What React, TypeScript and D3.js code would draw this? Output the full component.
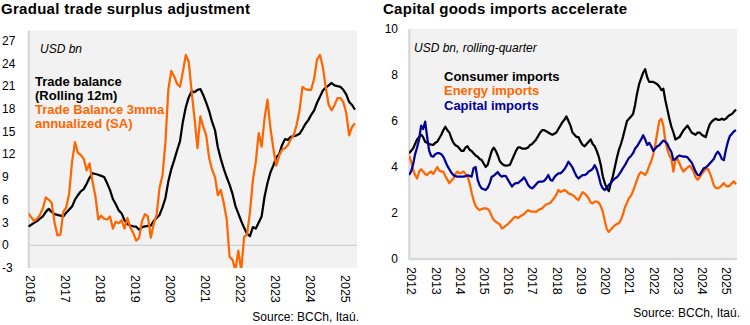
import React from 'react';
import * as d3 from 'd3';

// ---------- Left chart data (monthly, Jan 2016 - May 2025) ----------
const leftYears = ['2016', '2017', '2018', '2019', '2020', '2021', '2022', '2023', '2024', '2025'];
const leftYTicks = [-3, 0, 3, 6, 9, 12, 15, 18, 21, 24, 27];
const tradeBalance12m = [
  2.45, 2.7, 2.95, 3.2, 3.5, 3.8, 4.4, 4.8, 4.4, 4.1, 4.0, 3.9,
  3.8, 4.3, 4.7, 5.1, 6.0, 6.6, 7.1, 7.4, 8.1, 8.9, 9.5, 9.4,
  9.3, 9.15, 9.0, 8.2, 7.3, 6.1, 5.4, 4.6, 4.2, 3.3, 2.8, 2.6,
  2.5, 2.45, 2.05, 2.4, 2.5, 2.55, 2.6, 3.2, 3.6, 4.0, 5.0, 6.2,
  8.4, 10.0, 11.2, 12.5, 13.7, 16.3, 18.2, 19.5, 20.3, 20.2, 20.5, 20.6,
  19.8, 18.8, 17.7, 16.3, 15.2, 12.9, 11.4, 10.1, 9.0, 8.0, 6.8, 5.2,
  4.2, 3.2, 2.3, 1.5, 1.2, 2.4, 2.2, 3.0, 3.8, 6.4, 8.2, 9.6,
  10.5, 11.6, 12.0, 13.2, 14.0, 13.9, 14.3, 14.4, 14.5, 14.7, 15.3, 16.0,
  16.5, 17.2, 17.8, 18.8, 19.6, 20.4, 20.8, 21.1, 21.4, 21.1, 21.0, 20.9,
  20.5, 19.9, 18.9, 18.5, 17.9,
];
const tradeBalance3mma = [
  4.2, 3.7, 3.2, 3.5, 4.0, 4.9, 6.3, 6.0, 5.6, 3.0, 1.3, 1.4,
  4.4, 5.0, 6.8, 11.0, 13.6, 12.2, 11.9, 11.4, 9.9, 10.8, 8.4, 6.5,
  3.4, 3.9, 3.5, 3.4, 3.8, 2.2, 3.1, 2.9, 3.3, 2.2, 3.6, 2.3,
  1.6, 0.6, 1.0, 3.2, 4.1, 3.8, 1.0, 2.8, 4.0, 7.6, 9.2, 13.5,
  20.5, 23.0, 22.3, 21.3, 20.9, 22.9, 25.1, 24.2, 20.3, 16.7, 12.8, 17.0,
  15.6, 14.5, 11.5, 10.0, 9.0, 6.6, 7.3, 5.6, 3.5, -1.5, -1.9, -3.3,
  -0.7, -3.3, 1.1, 1.4, 4.4, 8.6, 11.0, 14.8, 13.0, 16.7, 19.2, 15.5,
  12.8, 10.5, 11.8, 12.6, 12.8, 13.2, 14.0, 14.5, 15.9, 17.8, 20.9, 20.6,
  20.5, 20.5, 22.0, 24.5, 25.1, 23.5, 20.8, 18.5, 17.8, 18.5, 19.4, 19.4,
  18.9, 17.5, 14.5, 15.6, 16.1,
];

// ---------- Right chart data (monthly, Jan 2012 - Jul 2025) ----------
const rightYears = ['2012', '2013', '2014', '2015', '2016', '2017', '2018', '2019', '2020', '2021', '2022', '2023', '2024', '2025'];
const rightYTicks = [0, 2, 4, 6, 8, 10];
const consumerImports = [
  4.6, 4.7, 4.8, 5.0, 5.2, 5.3, 5.4, 5.3, 5.1, 5.05, 5.0, 4.97,
  4.96, 5.05, 5.1, 5.25, 5.4, 5.6, 5.75, 5.6, 5.5, 5.25, 5.05, 4.95,
  4.9, 4.8, 4.7, 4.7, 4.85, 4.9, 4.75, 4.7, 4.6, 4.5, 4.45, 4.35,
  4.3, 4.15, 4.0, 4.1, 4.4, 4.7, 4.84, 4.7, 4.5, 4.25, 4.15, 4.08,
  4.06, 4.07, 4.1, 4.3, 4.5, 4.7, 4.85, 4.85, 4.8, 4.8, 4.8, 4.85,
  4.96, 5.0, 5.1, 5.2, 5.35, 5.5, 5.6, 5.6, 5.55, 5.5, 5.45, 5.4,
  5.45, 5.5, 5.65, 5.8, 5.95, 6.05, 6.2, 6.0, 5.8, 5.5, 5.4, 5.3,
  5.3, 5.1, 4.96, 4.9, 5.0, 5.1, 5.2, 5.0, 4.9, 4.7, 4.45, 4.1,
  3.6, 3.3, 3.07, 2.95, 3.3, 3.6, 4.0, 4.4, 4.75, 5.0, 5.3, 5.65,
  6.0, 6.1, 6.2, 6.3, 6.7, 7.2, 7.6, 7.85, 8.1, 8.25, 7.9, 7.7,
  7.7, 7.7, 7.65, 7.6, 7.5, 7.35, 7.4, 6.9, 6.5, 6.1, 5.75, 5.5,
  5.2, 5.25, 5.3, 5.45, 5.6, 5.7, 5.8, 5.65, 5.5, 5.45, 5.4, 5.5,
  5.5, 5.4, 5.35, 5.3, 5.6, 5.85, 5.97, 6.05, 6.1, 6.05, 6.05, 6.1,
  6.05, 6.1, 6.2, 6.26, 6.3, 6.4, 6.5,
];
const energyImports = [
  4.5, 4.25, 3.9, 3.65, 3.5, 3.8, 3.9, 3.8, 3.7, 3.65, 3.75, 3.8,
  3.7, 3.85, 4.0, 3.85, 3.8, 3.8, 3.6, 3.45, 3.3, 3.4, 3.5, 3.7,
  3.8, 3.72, 3.75, 3.8, 3.7, 3.6, 3.3, 2.9, 2.55, 2.3, 2.2, 2.13,
  2.17, 2.2, 2.2, 2.18, 2.07, 1.85, 1.7, 1.62, 1.56, 1.5, 1.33, 1.38,
  1.45, 1.52, 1.6, 1.7, 1.8, 1.83, 1.78, 1.85, 1.9, 1.95, 2.05, 2.12,
  2.08, 2.06, 2.06, 2.05, 2.12, 2.17, 2.2, 2.3, 2.37, 2.4, 2.45, 2.55,
  2.65, 2.8, 3.0, 2.92, 2.95, 3.0, 2.95, 2.85, 2.82, 2.78, 2.72, 2.62,
  2.56, 2.75, 2.9, 2.85, 2.75, 2.64, 2.45, 2.42, 2.5, 2.5, 2.45, 2.3,
  2.05, 1.65, 1.3, 1.18, 1.28, 1.38, 1.47, 1.52, 1.56, 1.7, 1.95, 2.25,
  2.45, 2.65, 2.75, 2.95, 3.2, 3.45, 3.68, 3.78, 3.72, 3.65, 3.8, 4.05,
  4.25, 4.55, 4.96, 5.5, 6.0, 6.1, 5.8, 5.15, 4.75, 4.5, 4.35, 3.8,
  4.3, 4.35, 4.15, 3.95, 3.8, 3.9, 3.98, 4.05, 3.95, 3.8, 3.55, 3.45,
  3.55, 3.7, 3.8, 3.9, 3.92, 3.75, 3.5, 3.2, 3.1, 3.07, 3.12, 3.2,
  3.3, 3.18, 3.15, 3.2, 3.3, 3.38, 3.25,
];
const capitalImports = [
  3.65, 3.8, 4.1, 4.55, 4.85, 5.2, 5.8, 5.65, 5.97, 5.3, 4.7, 4.48,
  4.45, 4.55, 4.6, 4.6, 4.55, 4.45, 4.25, 4.05, 3.9, 3.75, 3.65, 3.6,
  3.58, 3.58, 3.58, 3.58, 3.6, 3.64, 3.62, 3.58, 3.95, 4.0, 3.45, 3.2,
  3.07, 3.03, 3.0, 3.1, 3.3, 3.58, 3.62, 3.7, 3.78, 3.65, 3.58, 3.62,
  3.6, 3.45, 3.3, 3.15, 3.25, 3.3, 3.3, 3.38, 3.45, 3.55, 3.4, 3.22,
  3.12, 3.07, 3.15, 3.25, 3.35, 3.36, 3.36, 3.4, 3.5, 3.65, 3.45, 3.4,
  3.55, 3.65, 3.72, 3.72, 3.8, 3.9, 4.05, 4.23, 4.1, 3.98, 3.78, 3.6,
  3.5, 3.58, 3.65, 3.65, 3.7, 3.8, 3.85, 3.92, 4.08, 3.9, 3.6, 3.25,
  3.07, 3.0, 3.1, 3.22, 3.3, 3.42, 3.5, 3.55, 3.67, 3.8, 3.95, 4.08,
  4.25, 4.4, 4.48, 4.6, 4.8, 4.9, 5.05, 5.2, 5.38, 5.2, 4.96, 5.05,
  4.9, 4.7, 4.8, 4.9, 4.95, 5.05, 5.15, 5.1, 5.0, 4.8, 4.65, 4.3,
  4.35, 4.45, 4.5, 4.47, 4.45, 4.45, 4.42, 4.3, 4.2, 4.0, 3.8, 3.65,
  3.65, 3.8, 3.94, 3.98, 4.05, 4.15, 4.25, 4.35, 4.55, 4.67, 4.55, 4.35,
  4.3, 4.75, 5.1, 5.35, 5.45, 5.55, 5.6,
];

const ORANGE = '#FF6600';
const BLUE = '#000099';
const FONT = '"Liberation Sans", Arial, sans-serif';

export default function App() {
  // Left chart scales
  const xL = d3.scaleLinear().domain([0, 112.7]).range([28.3, 357]);
  const yL = d3.scaleLinear().domain([-3, 28.3]).range([268, 30.7]);
  // Right chart scales
  const xR = d3.scaleLinear().domain([0, 162.5]).range([409, 737]);
  const yR = d3.scaleLinear().domain([0, 10]).range([259, 29]);

  const lineL = d3.line<number>().x((_, i) => xL(i)).y((d) => yL(d));
  const lineR = d3.line<number>().x((_, i) => xR(i)).y((d) => yR(d));

  return (
    <svg width={750} height={325} style={{ position: 'absolute', left: 0, top: 0, fontFamily: FONT }}>
      <defs>
        <clipPath id="clipL">
          <rect x={28.3} y={30.7} width={357 - 28.3} height={268 - 30.7} />
        </clipPath>
        <clipPath id="clipR">
          <rect x={409} y={29} width={737 - 409} height={259 - 29} />
        </clipPath>
      </defs>
      <rect x={0} y={0} width={750} height={325} fill="#fff" />

      {/* ---------------- Left chart ---------------- */}
      <text x={1} y={14} fontSize={15} fontWeight="bold" textLength={249} lengthAdjust="spacing">
        Gradual trade surplus adjustment
      </text>
      <rect x={28.3} y={30.7} width={357 - 28.3} height={268 - 30.7} fill="#f2f2f2" />
      <line x1={28.3} x2={357} y1={yL(0)} y2={yL(0)} stroke="#c8c8c8" strokeWidth={1} />
      <line x1={28.8} x2={28.8} y1={30.7} y2={268} stroke="#d4d4d4" strokeWidth={2} />
      {leftYTicks.map((t) => (
        <text key={t} x={2} y={yL(t)} dy="0.35em" fontSize={12} textAnchor="start">
          {t}
        </text>
      ))}
      {leftYears.map((yr, i) => (
        <text
          key={yr}
          transform={`translate(${xL(i * 12) + 2.5},275) rotate(90)`}
          dy="0.35em"
          fontSize={12.5}
          textAnchor="start"
        >
          {yr}
        </text>
      ))}
      <g clipPath="url(#clipL)">
        <path d={lineL(tradeBalance12m) || ''} fill="none" stroke="#000" strokeWidth={2.25} strokeLinejoin="round" />
        <path d={lineL(tradeBalance3mma) || ''} fill="none" stroke={ORANGE} strokeWidth={2.25} strokeLinejoin="round" />
      </g>
      <text x={40} y={53} fontSize={12} fontStyle="italic">USD bn</text>
      <text x={35} y={85.5} fontSize={13} fontWeight="bold" fill="#000">Trade balance</text>
      <text x={35} y={99.8} fontSize={13} fontWeight="bold" fill="#000">(Rolling 12m)</text>
      <text x={35} y={114} fontSize={13} fontWeight="bold" fill={ORANGE}>Trade Balance 3mma</text>
      <text x={35} y={128.3} fontSize={13} fontWeight="bold" fill={ORANGE}>annualized (SA)</text>
      <text x={359} y={321} fontSize={12} textAnchor="end">Source: BCCh, Itaú.</text>

      {/* ---------------- Right chart ---------------- */}
      <text x={383} y={14} fontSize={15} fontWeight="bold" textLength={244} lengthAdjust="spacing">
        Capital goods imports accelerate
      </text>
      <rect x={409} y={29} width={737 - 409} height={259 - 29} fill="#f2f2f2" />
      <line x1={409.3} x2={409.3} y1={29} y2={260} stroke="#d4d4d4" strokeWidth={2} />
      <line x1={409} x2={737} y1={259} y2={259} stroke="#d9d9d9" strokeWidth={2.5} />
      {rightYTicks.map((t) => (
        <text key={t} x={398} y={yR(t)} dy="0.35em" fontSize={12} textAnchor="end">
          {t}
        </text>
      ))}
      {rightYears.map((yr, i) => (
        <text
          key={yr}
          transform={`translate(${xR(i * 12) + 2.7},267) rotate(90)`}
          dy="0.35em"
          fontSize={12.5}
          textAnchor="start"
        >
          {yr}
        </text>
      ))}
      <g clipPath="url(#clipR)">
        <path d={lineR(consumerImports) || ''} fill="none" stroke="#000" strokeWidth={2.25} strokeLinejoin="round" />
        <path d={lineR(energyImports) || ''} fill="none" stroke={ORANGE} strokeWidth={2.25} strokeLinejoin="round" />
        <path d={lineR(capitalImports) || ''} fill="none" stroke={BLUE} strokeWidth={2.25} strokeLinejoin="round" />
      </g>
      <text x={414} y={52.3} fontSize={12} fontStyle="italic">USD bn, rolling-quarter</text>
      <text x={444} y={80.7} fontSize={13} fontWeight="bold" fill="#000">Consumer imports</text>
      <text x={444} y={95} fontSize={13} fontWeight="bold" fill={ORANGE}>Energy imports</text>
      <text x={444} y={109.5} fontSize={13} fontWeight="bold" fill={BLUE}>Capital imports</text>
      <text x={740} y={317} fontSize={12} textAnchor="end">Source: BCCh, Itaú.</text>
    </svg>
  );
}
